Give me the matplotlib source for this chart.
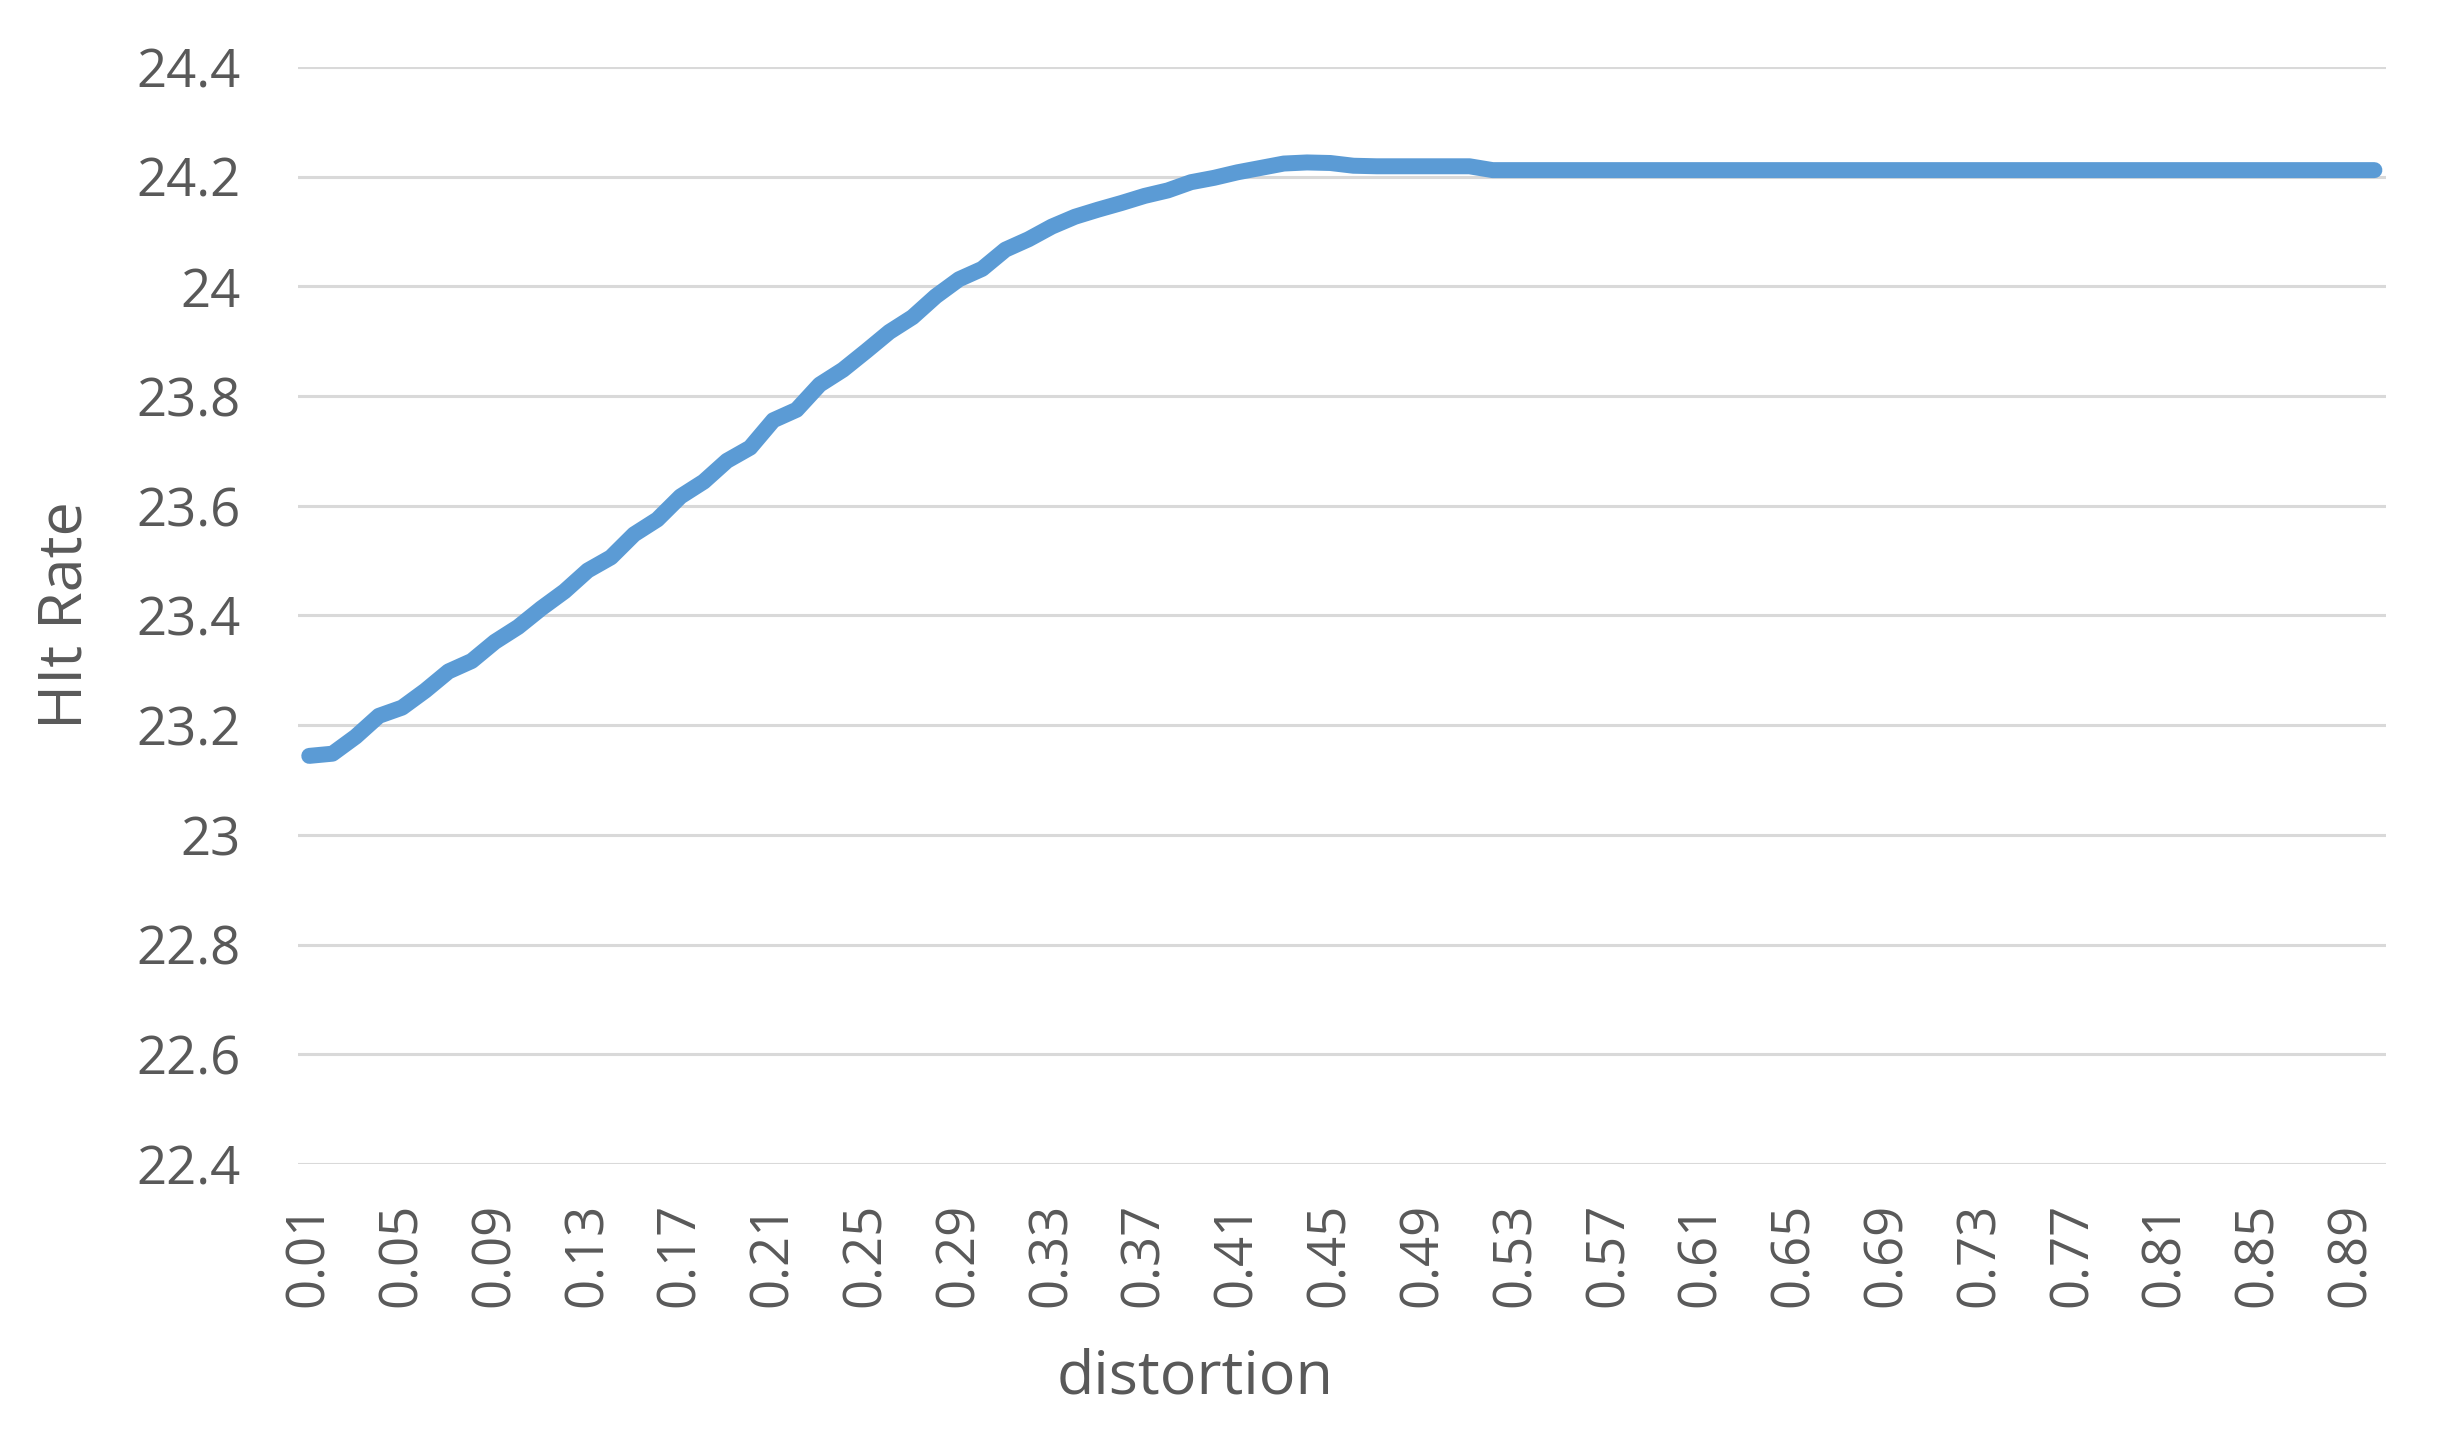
import matplotlib
matplotlib.use("Agg")
import matplotlib.pyplot as plt

# ==========================================================
# Dados
# ==========================================================
distortion = [f"{k / 100:.2f}" for k in range(1, 91)]

hit_rate = [
    23.144, 23.148, 23.179, 23.217, 23.232, 23.263, 23.298, 23.317, 23.352, 23.379,
    23.413, 23.444, 23.482, 23.506, 23.548, 23.575, 23.617, 23.644, 23.682, 23.706,
    23.756, 23.775, 23.821, 23.848, 23.882, 23.917, 23.944, 23.982, 24.013, 24.032,
    24.067, 24.086, 24.109, 24.127, 24.140, 24.152, 24.165, 24.175, 24.190, 24.198,
    24.208, 24.216, 24.224, 24.226, 24.225, 24.220, 24.219, 24.219, 24.219, 24.219,
    24.219, 24.212, 24.212, 24.212, 24.212, 24.212, 24.212, 24.212, 24.212, 24.212,
    24.212, 24.212, 24.212, 24.212, 24.212, 24.212, 24.212, 24.212, 24.212, 24.212,
    24.212, 24.212, 24.212, 24.212, 24.212, 24.212, 24.212, 24.212, 24.212, 24.212,
    24.212, 24.212, 24.212, 24.212, 24.212, 24.212, 24.212, 24.212, 24.212, 24.212,
]

y_ticks = [22.4, 22.6, 22.8, 23, 23.2, 23.4, 23.6, 23.8, 24, 24.2, 24.4]
y_tick_labels = ["22.4", "22.6", "22.8", "23", "23.2", "23.4", "23.6", "23.8", "24", "24.2", "24.4"]

# ==========================================================
# Gráfico
# ==========================================================
plt.rcParams["font.family"] = ["Open Sans", "DejaVu Sans"]
cinza = "#595959"

fig = plt.figure(figsize=(24.56, 14.35), dpi=100)
ax = fig.add_axes([0.1212, 0.1889, 0.8503, 0.7644])

posicoes = list(range(len(distortion)))
ax.plot(
    posicoes,
    hit_rate,
    color="#5B9BD5",
    linewidth=11.5,
    solid_capstyle="round",
    solid_joinstyle="round",
    zorder=3
)

ax.set_xlim(-0.5, len(distortion) - 0.5)
ax.set_ylim(22.4, 24.4)

ax.set_yticks(y_ticks)
ax.set_yticklabels(y_tick_labels)
ax.set_xticks(posicoes[::4])
ax.set_xticklabels(distortion[::4], rotation=90, ha="center", va="top")

ax.tick_params(axis="y", length=0, pad=41, labelsize=38, labelcolor=cinza)
ax.tick_params(axis="x", length=0, pad=28, labelsize=38, labelcolor=cinza)

ax.grid(axis="y", color="#D9D9D9", linewidth=2.2, zorder=0)
ax.set_axisbelow(True)
for lado in ["top", "right", "bottom", "left"]:
    ax.spines[lado].set_visible(False)

fig.text(1195 / 2456, 1 - 1377 / 1435, "distortion",
         ha="center", va="center", fontsize=44, color=cinza)
fig.text(65 / 2456, 1 - 615 / 1435, "HIt Rate",
         ha="center", va="center", rotation=90, fontsize=44, color=cinza)

fig.savefig("out.png", dpi=100)
